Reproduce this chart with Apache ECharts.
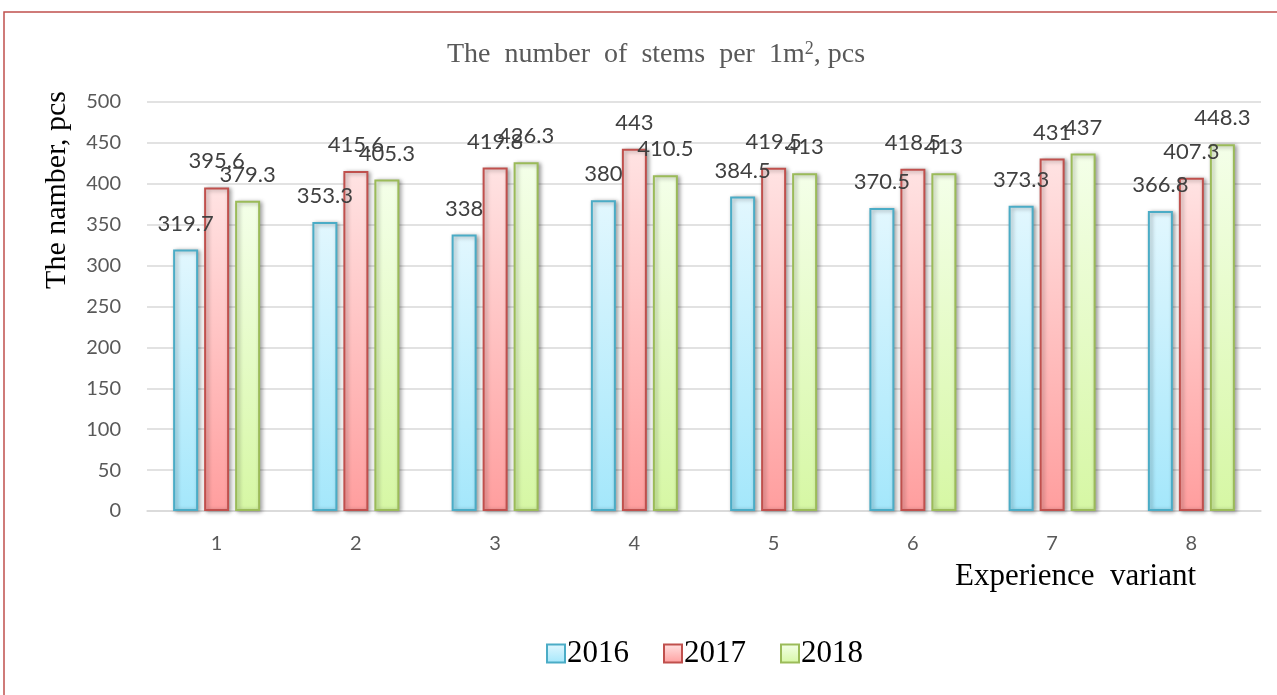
<!DOCTYPE html>
<html>
<head>
<meta charset="utf-8">
<script src="https://cdn.jsdelivr.net/npm/echarts@6/dist/echarts.min.js"></script>
<style>
html,body{margin:0;padding:0;background:#fff;}
#chart{width:1277px;height:695px;}
</style>
</head>
<body>
<div id="chart"></div>
<script>
const categories = ['1','2','3','4','5','6','7','8'];
const years = ['2016','2017','2018'];
const values2016 = [319.7, 353.3, 338, 380, 384.5, 370.5, 373.3, 366.8];
const values2017 = [395.6, 415.6, 419.8, 443, 419.5, 418.5, 431, 407.3];
const values2018 = [379.3, 405.3, 426.3, 410.5, 413, 413, 437, 448.3];
const yTicks = {min: 0, max: 500, interval: 50};

const styles = [
  {top:'#e2f7fe', bottom:'#a4e7fb', border:'#4bacc6'},
  {top:'#ffe3e3', bottom:'#ff9e9e', border:'#c0504d'},
  {top:'#f4ffe9', bottom:'#d6f7a4', border:'#9bbb59'}
];
const seriesData = [values2016, values2017, values2018];

const chart = echarts.init(document.getElementById('chart'));
const labelFont = 'Lato, "Open Sans", sans-serif';
const serif = '"Liberation Serif", "DejaVu Serif", serif';

chart.setOption({
  animation: false,
  backgroundColor: '#fff',
  title: {
    text: 'The  number  of  stems  per  1m{sup|2}, pcs',
    left: 442,
    top: 35,
    textStyle: {
      fontFamily: serif, fontSize: 28, fontWeight: 'normal', color: '#595959',
      rich: { sup: { fontFamily: serif, fontSize: 18, color: '#595959', verticalAlign: 'top', padding: [0,0,12,0] } }
    }
  },
  legend: {
    data: years,
    left: 541,
    top: 633,
    icon: 'rect',
    itemWidth: 18,
    itemHeight: 18,
    itemGap: 34,
    textStyle: { fontFamily: serif, fontSize: 31, color: '#000', padding: [0,0,0,-3] }
  },
  grid: { left: 147, right: 16, top: 102, bottom: 184 },
  xAxis: {
    type: 'category',
    data: categories,
    axisLine: { lineStyle: { color: '#d9d9d9', width: 1.5 } },
    axisTick: { show: false },
    axisLabel: { fontFamily: labelFont, fontSize: 20, color: '#595959', margin: 23 }
  },
  yAxis: {
    type: 'value',
    min: yTicks.min, max: yTicks.max, interval: yTicks.interval,
    axisLine: { show: false },
    axisTick: { show: false },
    splitLine: { lineStyle: { color: '#d9d9d9', width: 1.5 } },
    axisLabel: { fontFamily: labelFont, fontSize: 20, color: '#595959', margin: 26 }
  },
  graphic: [
    { type: 'rect', silent: true, shape: { x: 4, y: 12, width: 1400, height: 900 },
      style: { fill: 'none', stroke: '#c0504d', lineWidth: 1.5 } },
    { type: 'text', x: 57, y: 190, rotation: Math.PI / 2,
      style: { text: 'The namber, pcs', fontFamily: serif, fontSize: 30, fill: '#000', textAlign: 'center', textVerticalAlign: 'middle' } },
    { type: 'text', x: 1196, y: 577,
      style: { text: 'Experience  variant', fontFamily: serif, fontSize: 31, fill: '#000', textAlign: 'right', textVerticalAlign: 'middle' } }
  ],
  series: seriesData.map((d, i) => ({
    name: years[i],
    type: 'bar',
    data: d,
    barWidth: 25,
    barGap: '24%',
    itemStyle: {
      color: new echarts.graphic.LinearGradient(0, 0, 0, 1, [
        { offset: 0, color: styles[i].top },
        { offset: 1, color: styles[i].bottom }
      ]),
      borderColor: styles[i].border,
      borderWidth: 2,
      shadowColor: 'rgba(0,0,0,0.35)',
      shadowBlur: 4,
      shadowOffsetX: 2,
      shadowOffsetY: 1
    },
    label: {
      show: true,
      position: 'top',
      distance: 15,
      fontFamily: labelFont,
      fontSize: 22,
      color: '#404040'
    }
  }))
});
</script>
</body>
</html>
